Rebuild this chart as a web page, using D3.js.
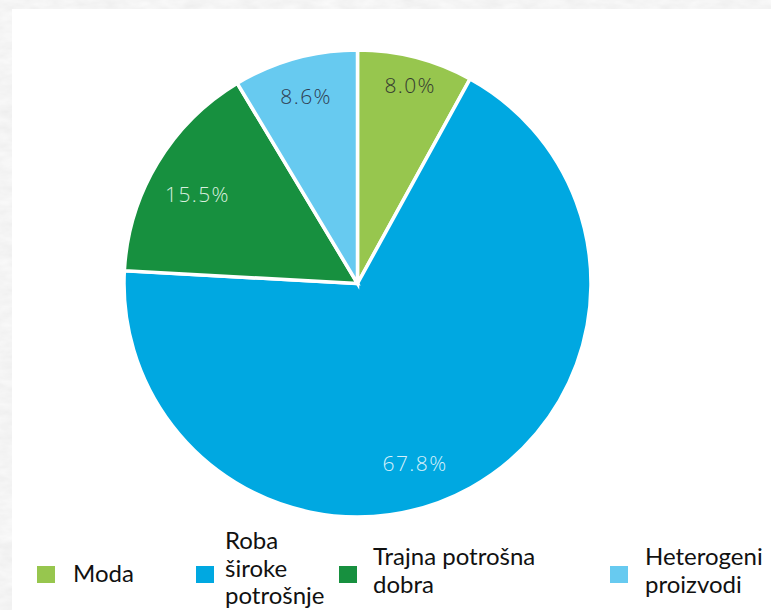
<!DOCTYPE html>
<html>
<head>
<meta charset="utf-8">
<script src="https://cdn.jsdelivr.net/npm/d3@7"></script>
<style>
  html, body { margin: 0; padding: 0; background: #fff; }
  svg { display: block; }
</style>
</head>
<body>
<script>
// Share of sales by product group
const categories = ["Moda", "Roba široke potrošnje", "Trajna potrošna dobra", "Heterogeni proizvodi"];
const shares = [8.0, 67.8, 15.5, 8.6];
const shareLabels = ["8.0%", "67.8%", "15.5%", "8.6%"];
// Legend text, wrapped as it is shown under the pie
const legendLines = [["Moda"], ["Roba", "široke", "potrošnje"], ["Trajna potrošna", "dobra"], ["Heterogeni", "proizvodi"]];

const colors = ["#97c64e", "#00a8e1", "#17903f", "#67caf0"];
const labelColors = ["#353a30", "#d6f0fb", "#d9efdf", "#2f3d52"];

const W = 771, H = 610;
const svg = d3.select("body").append("svg").attr("width", W).attr("height", H);

// Mottled grey backdrop and the white panel on top of it
const defs = svg.append("defs");
const f = defs.append("filter").attr("id", "paper")
  .attr("x", 0).attr("y", 0).attr("width", "100%").attr("height", "100%");
f.append("feTurbulence").attr("type", "fractalNoise")
  .attr("baseFrequency", "0.05 0.12").attr("numOctaves", 3).attr("seed", 7);
f.append("feColorMatrix").attr("type", "matrix")
  .attr("values", "0.13 0 0 0 0.84  0.13 0 0 0 0.84  0.13 0 0 0 0.84  0 0 0 0 1");
svg.append("rect").attr("width", W).attr("height", H).attr("filter", "url(#paper)");
svg.append("rect").attr("x", 12).attr("y", 9).attr("width", W - 12).attr("height", H - 9).attr("fill", "#fff");

// Pie
const cx = 357.5, cy = 283.5, R = 233.5;
const pie = d3.pie().sort(null).value(d => d)(shares);
const arc = d3.arc().innerRadius(0).outerRadius(R);

const g = svg.append("g").attr("transform", `translate(${cx},${cy})`);
g.selectAll("path.slice")
  .data(pie)
  .join("path")
  .attr("class", "slice")
  .attr("d", arc)
  .attr("fill", (d, i) => colors[i])
  .attr("stroke", "#fff")
  .attr("stroke-width", 3.5)
  .attr("stroke-linejoin", "miter");

// Percentage labels: polar placement from each slice's mid angle
const labelTweak = [
  { dA: 0.5, k: 0.877 },
  { dA: 11.3, k: 0.81 },
  { dA: -1.9, k: 0.785 },
  { dA: 0.1, k: 0.829 }
];
g.selectAll("text.pct")
  .data(pie)
  .join("text")
  .attr("class", "pct")
  .each(function (d, i) {
    const a = (d.startAngle + d.endAngle) / 2 + labelTweak[i].dA * Math.PI / 180;
    const r = R * labelTweak[i].k;
    d3.select(this)
      .attr("x", r * Math.sin(a))
      .attr("y", -r * Math.cos(a));
  })
  .attr("dy", "0.36em")
  .attr("text-anchor", "middle")
  .attr("font-family", "'Open Sans', sans-serif")
  .attr("font-weight", 300)
  .attr("font-size", 21)
  .attr("letter-spacing", 1.4)
  .attr("fill", (d, i) => labelColors[i])
  .text((d, i) => shareLabels[i]);

// Legend
const legendLayout = [
  { x: 37, textX: 36, firstBaseline: 582 },
  { x: 196, textX: 29, firstBaseline: 549 },
  { x: 339, textX: 34, firstBaseline: 565 },
  { x: 610, textX: 35, firstBaseline: 565 }
];
const lineGap = 27.5;
const leg = svg.append("g").attr("class", "legend");
const items = leg.selectAll("g.item")
  .data(categories)
  .join("g")
  .attr("class", "item")
  .attr("transform", (d, i) => `translate(${legendLayout[i].x},0)`);

items.append("rect")
  .attr("y", 566)
  .attr("width", 18)
  .attr("height", 17)
  .attr("fill", (d, i) => colors[i]);

items.append("text")
  .attr("font-family", "Lato, 'Open Sans', sans-serif")
  .attr("font-size", 24)
  .attr("fill", "#111")
  .each(function (d, i) {
    const t = d3.select(this);
    legendLines[i].forEach((line, j) => {
      t.append("tspan")
        .attr("x", legendLayout[i].textX)
        .attr("y", legendLayout[i].firstBaseline + j * lineGap)
        .text(line);
    });
  });
</script>
</body>
</html>
